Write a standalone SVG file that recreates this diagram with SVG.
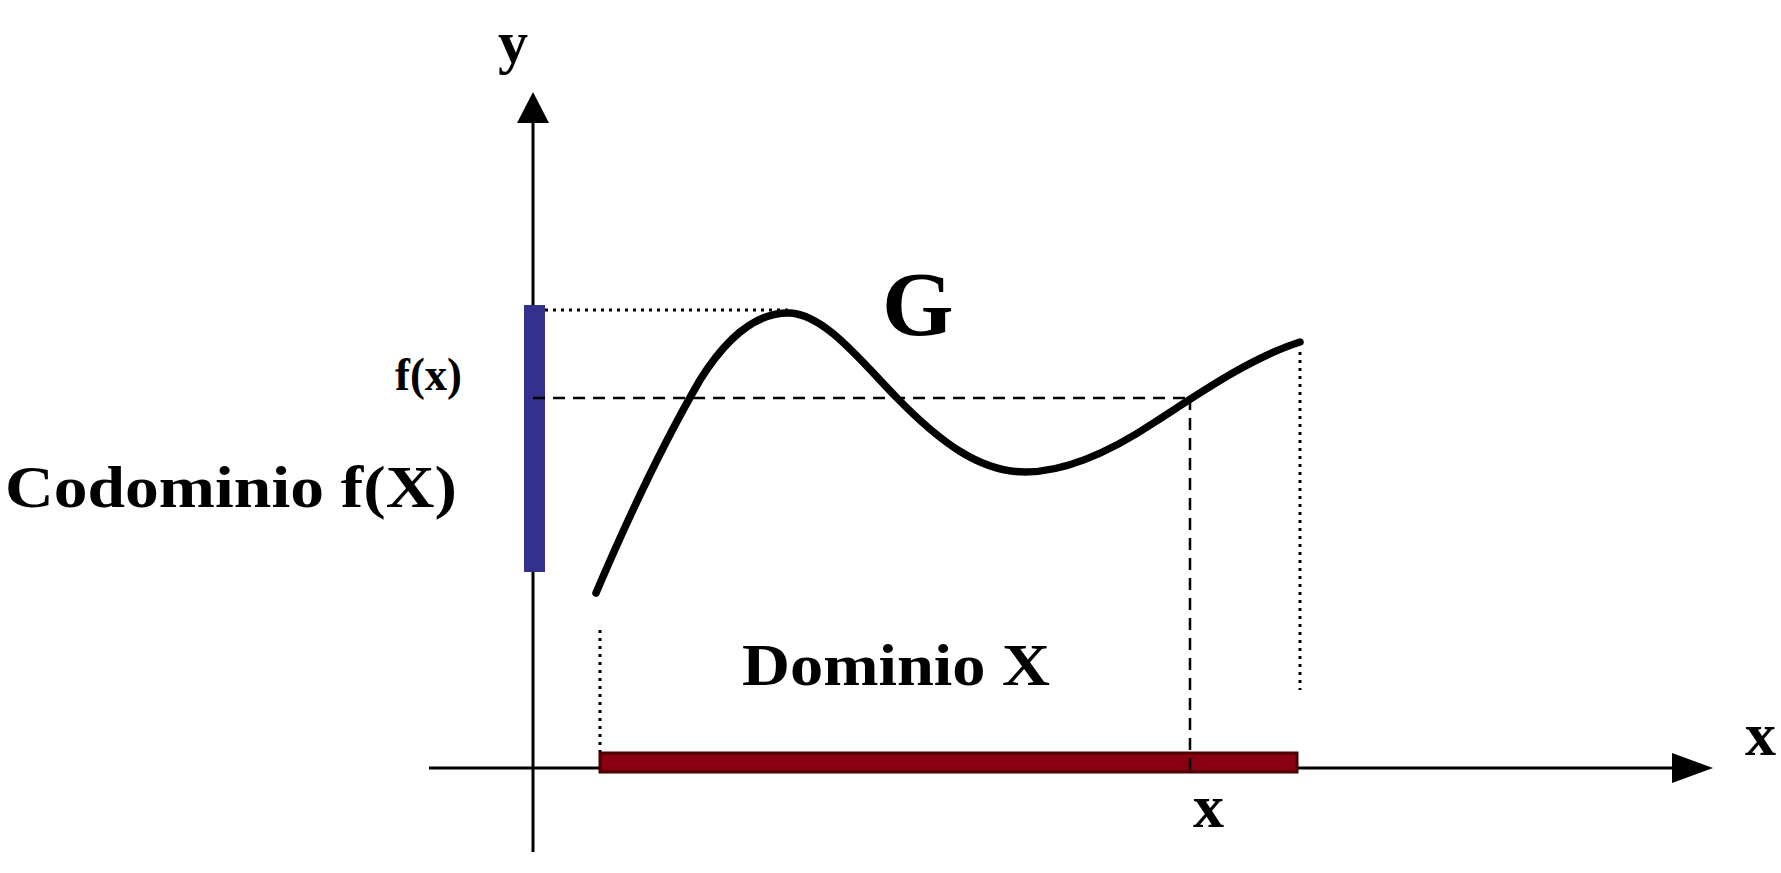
<svg xmlns="http://www.w3.org/2000/svg" width="1781" height="873" viewBox="0 0 1781 873">
<style>
.lbl{font-family:"Liberation Serif","Times New Roman",serif;font-weight:bold;fill:#000}
.axis{stroke:#000;stroke-width:3;fill:none}
.dot{stroke:#000;stroke-width:3;stroke-dasharray:3,5;fill:none}
.dash{stroke:#000;stroke-width:2.5;stroke-dasharray:12,8;fill:none}
</style>
<rect width="1781" height="873" fill="#fff"/>
<g id="axes">
<line class="axis" x1="429" y1="768" x2="1675" y2="768"/>
<polygon points="1672,753 1713,768 1672,783" fill="#000"/>
<line class="axis" x1="533" y1="852" x2="533" y2="120"/>
<polygon points="517,123 533,92 549,123" fill="#000"/>
</g>
<g id="codomain-bar">
<rect x="524" y="305" width="21" height="267" fill="#34318c"/>
</g>
<g id="domain-bar">
<rect x="600" y="753" width="697" height="19" fill="#880012" stroke="#4d0000" stroke-width="3"/>
</g>
<g id="connectors">
<line class="dot" x1="545" y1="310" x2="792" y2="310"/>
<line class="dash" x1="533" y1="398" x2="1190" y2="398"/>
<line class="dash" x1="1190" y1="398" x2="1190" y2="778"/>
<line class="dot" x1="600" y1="630" x2="600" y2="752"/>
<line class="dot" x1="1300" y1="352" x2="1300" y2="690"/>
</g>
<g id="curve-G">
<path d="M596,593 C625,525 665,440 700,380 C730,332 760,312 790,313 C825,315 860,360 897,398 C940,442 980,472 1025,472 C1065,472 1110,452 1155,422 C1200,393 1250,358 1300,342" fill="none" stroke="#000" stroke-width="7.5" stroke-linecap="round"/>
</g>
<g id="labels">
<text class="lbl" x="498" y="62" font-size="60">y</text>
<text class="lbl" x="395" y="390" font-size="46" textLength="67" lengthAdjust="spacingAndGlyphs">f(x)</text>
<text class="lbl" x="5" y="507" font-size="60" textLength="452" lengthAdjust="spacingAndGlyphs">Codominio f(X)</text>
<text class="lbl" x="882" y="335" font-size="92">G</text>
<text class="lbl" x="742" y="685" font-size="60" textLength="308" lengthAdjust="spacingAndGlyphs">Dominio X</text>
<text class="lbl" x="1193" y="827" font-size="62">x</text>
<text class="lbl" x="1745" y="755" font-size="62">x</text>
</g>
</svg>
